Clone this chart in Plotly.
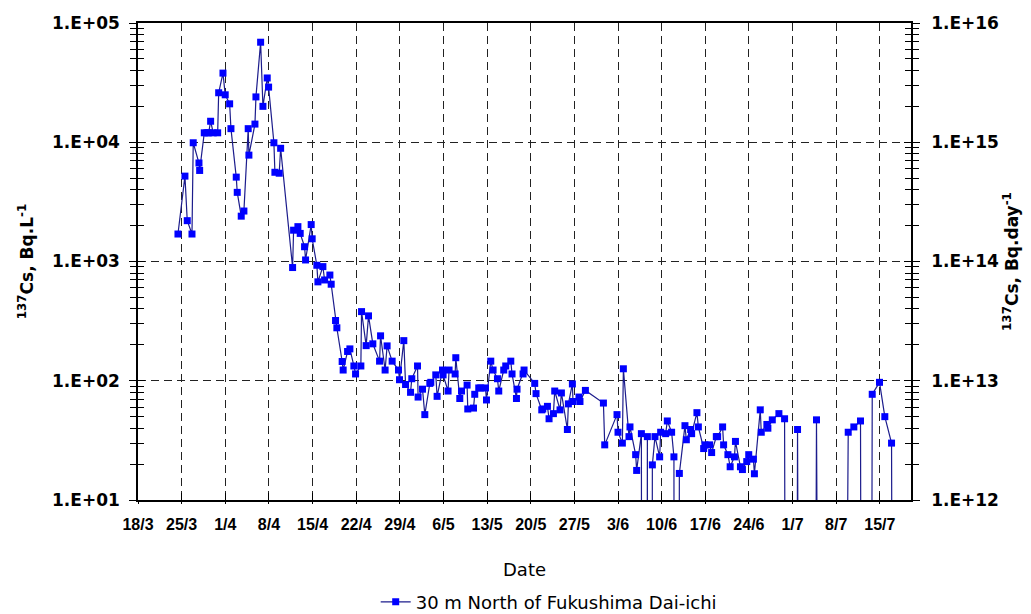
import pandas as pd
import plotly.graph_objects as go

# ---- data ----
start_date = "2011-03-18"
# sample time, in days elapsed since 18 March 2011
sample_day = [
    6.41, 7.53, 7.90, 8.66, 8.86, 9.78, 9.89, 10.63, 11.06, 11.33, 11.65, 12.07, 12.78, 12.94,
    13.63, 13.99, 14.70, 14.91, 15.76, 15.92, 16.56, 16.99, 17.68, 17.79, 18.76, 18.92, 19.67,
    20.04, 20.73, 20.95, 21.80, 21.96, 22.65, 22.88, 24.80, 24.96, 25.65, 26.02, 26.72, 26.88,
    27.78, 27.94, 28.69, 28.86, 29.66, 29.93, 30.78, 30.99, 31.69, 31.90, 32.75, 32.91, 33.62,
    33.99, 34.63, 34.90, 35.75, 35.86, 36.60, 36.98, 37.67, 38.75, 38.91, 39.64, 39.96, 40.77,
    41.79, 41.95, 42.64, 42.92, 43.72, 43.92, 44.84, 44.93, 45.64, 46.01, 46.81, 46.97, 47.77,
    47.98, 48.85, 48.94, 49.74, 49.90, 50.87, 50.98, 51.62, 51.89, 52.79, 52.90, 53.82, 54.02,
    54.66, 54.98, 55.74, 55.90, 56.59, 56.96, 57.66, 57.87, 58.67, 58.99, 59.80, 60.00, 60.71,
    60.80, 61.77, 61.93, 63.64, 63.85, 64.77, 64.93, 65.68, 65.94, 66.64, 66.85, 67.70, 67.92,
    68.88, 69.04, 69.68, 69.78, 70.74, 70.90, 71.77, 74.66, 74.87, 76.84, 77.00, 77.70, 77.86,
    78.76, 78.92, 79.83, 79.99, 80.75, 81.20, 81.71, 82.10, 82.51, 82.93, 83.68, 83.84, 84.64,
    84.91, 85.60, 85.97, 86.40, 86.84, 87.74, 87.96, 88.65, 88.81, 89.66, 89.89, 90.74, 90.94,
    91.70, 92.02, 92.77, 92.98, 93.78, 93.94, 94.63, 94.99, 95.68, 95.84, 96.64, 96.96, 97.65,
    97.97, 98.72, 98.88, 99.82, 99.98, 100.88, 101.04, 101.75, 102.81, 103.72, 104.80, 105.80,
    107.30, 108.84, 111.00, 113.93, 114.83, 115.90, 116.80, 117.78, 118.95, 119.80, 120.88, 122.00,
]
# 137Cs concentration, Bq/L (0 = below detection)
cs137_bq_per_l = [
    1700, 5200, 2200, 1700, 9900, 6700, 5800, 12000, 12000, 12000, 15000, 12000, 12000, 26000,
    38000, 25000, 21000, 13000, 5100, 3800, 2400, 2650, 13000, 7800, 14200, 24000, 69000,
    20000, 34600, 29000, 9900, 5600, 5500, 8900, 890, 1830, 1960, 1720, 1330, 1030,
    2040, 1550, 930, 675, 906, 700, 770, 645, 320, 278, 145, 123, 176,
    185, 133, 114, 133, 380, 197, 350, 204, 146, 238, 123, 196, 146,
    123, 102, 217, 93, 80, 104, 133, 73, 85, 52, 95, 97, 112,
    74, 123, 112, 82, 123, 114, 156, 71, 82, 92, 58, 59, 77,
    87, 87, 87, 69, 146, 123, 104, 82, 123, 133, 146, 114, 71,
    85, 114, 123, 95, 78, 57, 58, 61, 48, 53, 82, 57, 79,
    39, 64, 94, 67, 73, 67, 83, 65, 29, 52, 37, 30, 126,
    34, 41, 24, 17.7, 36, 0, 34, 0, 19.7, 34, 23, 37, 36,
    46, 37, 23, 0, 16.7, 42, 32, 39, 36, 54, 41, 27, 29,
    29, 25, 34, 34, 41, 29, 24, 19, 23, 31, 19, 18, 21,
    24, 22, 16.6, 57, 37, 43, 40, 47, 53, 48, 0, 39,
    0, 47, 0, 37, 41, 46, 0, 77, 97, 50, 30, 0,
]
series_name = "30 m North of Fukushima Dai-ichi"
left_ticks = [1e1, 1e2, 1e3, 1e4, 1e5]
left_ticktext = ["1.E+01", "1.E+02", "1.E+03", "1.E+04", "1.E+05"]
right_ticks = [1e12, 1e13, 1e14, 1e15, 1e16]
right_ticktext = ["1.E+12", "1.E+13", "1.E+14", "1.E+15", "1.E+16"]

# ---- build ----
dates = pd.Timestamp(start_date) + pd.to_timedelta(sample_day, unit="D")
# zero (non-detect) values drop off the bottom of a log axis
y_plot = [v if v > 0 else 1e-20 for v in cs137_bq_per_l]

def minor_vals(lo_exp, hi_exp):
    return [m * 10 ** e for e in range(lo_exp, hi_exp) for m in range(2, 10)]

TICKFONT = dict(family="DejaVu Sans", size=17, color="black", weight="bold")
TITLEFONT = dict(family="DejaVu Sans", size=17, color="black", weight="bold")
AXCOL = "black"
GRIDCOL = "#222222"
WEEK = 7 * 86400000
xrange = ["2011-03-18", "2011-07-20"]

fig = go.Figure()
fig.add_trace(go.Scatter(
    x=dates, y=y_plot, mode="lines+markers", name=series_name,
    line=dict(color="#1c1c8c", width=1.2),
    marker=dict(symbol="square", size=7, color="#0000ff", line=dict(width=0)),
))
# invisible helper traces so the tick-only overlay axes are drawn
fig.add_trace(go.Scatter(x=[dates[0]], y=[1e13], yaxis="y2", mode="markers",
                         marker=dict(opacity=0), showlegend=False, hoverinfo="skip"))
fig.add_trace(go.Scatter(x=[dates[0]], y=[100], xaxis="x2", yaxis="y3", mode="markers",
                         marker=dict(opacity=0), showlegend=False, hoverinfo="skip"))
fig.add_trace(go.Scatter(x=[dates[0]], y=[1e13], yaxis="y4", mode="markers",
                         marker=dict(opacity=0), showlegend=False, hoverinfo="skip"))

# the page body adds an 8px offset, so the figure is 8px smaller than the window
fig.update_layout(
    width=1023, height=606,
    margin=dict(l=130, r=120, t=15, b=114, autoexpand=False),
    paper_bgcolor="white", plot_bgcolor="white",
    showlegend=True,
    legend=dict(orientation="h", x=0.3075, xanchor="left", y=-0.214, yanchor="middle",
                font=dict(family="DejaVu Sans", size=18, color="black"),
                itemwidth=30, bgcolor="rgba(0,0,0,0)"),
    xaxis=dict(
        type="date", range=xrange, tick0="2011-03-18", dtick=WEEK,
        tickformat="%-d/%-m", ticks="inside", ticklen=7, tickcolor=AXCOL,
        ticklabelstandoff=9,
        showline=True, linecolor=AXCOL, linewidth=1.5, mirror=True,
        showgrid=True, gridcolor=GRIDCOL, griddash="8px,5px", gridwidth=1,
        tickfont=dict(family="Liberation Sans", size=16, color="black", weight="bold"),
        title=dict(text="Date", font=dict(family="DejaVu Sans", size=18, color="black"),
                   standoff=31),
        zeroline=False, automargin=False,
    ),
    xaxis2=dict(type="date", range=xrange, overlaying="x", side="bottom",
                tick0="2011-03-18", dtick=WEEK, ticks="outside", ticklen=3,
                tickcolor=AXCOL, showticklabels=False, showgrid=False, showline=False,
                matches="x", automargin=False),
    yaxis=dict(
        type="log", range=[1, 5], tickvals=left_ticks, ticktext=left_ticktext,
        ticks="outside", ticklen=7, tickcolor=AXCOL, ticklabelstandoff=6,
        minor=dict(tickvals=minor_vals(1, 5), ticks="outside", ticklen=6,
                   tickcolor=AXCOL, showgrid=False),
        showline=True, linecolor=AXCOL, linewidth=1.5,
        showgrid=True, gridcolor=GRIDCOL, griddash="8px,5px", gridwidth=1,
        tickfont=TICKFONT,
        title=dict(text="<sup>137</sup>Cs, Bq.L<sup>-1</sup>", font=TITLEFONT, standoff=14),
        zeroline=False, automargin=False,
    ),
    yaxis3=dict(
        type="log", range=[1, 5], overlaying="y", side="left",
        tickvals=left_ticks, ticks="inside", ticklen=7, tickcolor=AXCOL,
        minor=dict(tickvals=minor_vals(1, 5), ticks="inside", ticklen=6, tickcolor=AXCOL),
        showticklabels=False, showgrid=False, showline=False, zeroline=False,
        automargin=False,
    ),
    yaxis2=dict(
        type="log", range=[12, 16], overlaying="y", side="right",
        tickvals=right_ticks, ticktext=right_ticktext,
        ticks="outside", ticklen=7, tickcolor=AXCOL, ticklabelstandoff=8,
        minor=dict(tickvals=minor_vals(12, 16), ticks="outside", ticklen=6,
                   tickcolor=AXCOL, showgrid=False),
        showline=True, linecolor=AXCOL, linewidth=1.5, showgrid=False,
        tickfont=TICKFONT,
        title=dict(text="<sup>137</sup>Cs, Bq.day<sup>-1</sup>", font=TITLEFONT, standoff=8),
        zeroline=False, automargin=False,
    ),
    yaxis4=dict(
        type="log", range=[12, 16], overlaying="y", side="right",
        tickvals=right_ticks, ticks="inside", ticklen=7, tickcolor=AXCOL,
        minor=dict(tickvals=minor_vals(12, 16), ticks="inside", ticklen=6, tickcolor=AXCOL),
        showticklabels=False, showgrid=False, showline=False, zeroline=False,
        automargin=False,
    ),
)

fig.write_html("out.html")
